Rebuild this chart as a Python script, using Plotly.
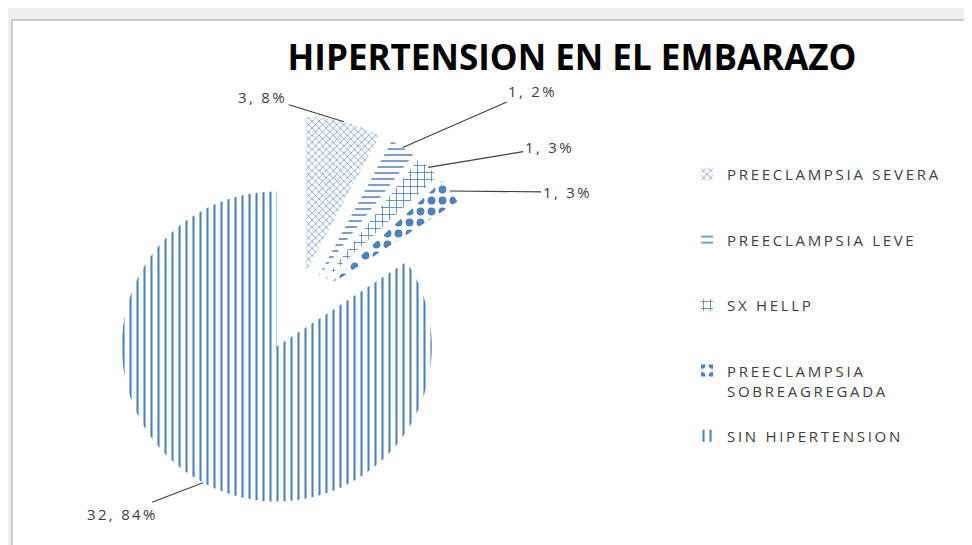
import math
import plotly.graph_objects as go

# ---------------- data ----------------
categories = ["PREECLAMPSIA SEVERA", "PREECLAMPSIA LEVE", "SX HELLP",
              "PREECLAMPSIA SOBREAGREGADA", "SIN HIPERTENSION"]
values = [3, 1, 1, 1, 32]
percent_labels = [8, 2, 3, 3, 84]          # percentages as printed on the chart
title_text = "HIPERTENSION EN EL EMBARAZO"

# ---------------- style ----------------
W, H = 972, 545
BLUE = "#4F81BD"
TXT = "#404040"
FONT = "Open Sans"
pull = 0.26
dom_x = [0.1036 - 8 / W, 0.5054 - 8 / W]
dom_y = [0.0692 + 9 / H, 0.7859 + 9 / H]
shapes_pat = ["x", "-", "+", ".", "|"]
sizes_pat = [5, 6, 7, 11, 7]
solid_pat = [0.22, 0.25, 0.22, 0.4, 0.3]
# label text offsets (px) from the leader-line tip
label_offsets = [(-81, -25), (130, -57), (121, -20), (117, 1), (-81, 31)]


def spaced(s, size=15, ls=2.5):
    return f'<span style="font-size:{size}px;letter-spacing:{ls}px">{s}</span>'


def legend_label(name, total_lines=3):
    parts = [name]
    if len(name) > 20:
        i = name.rfind(" ")
        parts = [name[:i], name[i + 1:]]
    lines = [spaced(p, 15, 2.7) for p in parts]
    while len(lines) < total_lines:
        lines.append("\u00a0")
    return "<br>".join(lines)


leg_labels = [legend_label(c, 3 if k < len(categories) - 1 else 1)
              for k, c in enumerate(categories)]

fig = go.Figure()
fig.add_trace(go.Pie(
    labels=leg_labels,
    values=values,
    sort=False,
    direction="clockwise",
    rotation=0,
    pull=[pull] * len(values),
    textinfo="none",
    hoverinfo="skip",
    domain=dict(x=dom_x, y=dom_y),
    marker=dict(
        colors=["white"] * len(values),
        line=dict(width=0),
        pattern=dict(shape=shapes_pat, size=sizes_pat, solidity=solid_pat,
                     fgcolor=BLUE, bgcolor="white", fillmode="replace"),
    ),
))

# ---- data labels with leader lines, positioned from the pie geometry ----
box = min((dom_x[1] - dom_x[0]) * W, (dom_y[1] - dom_y[0]) * H)
r = box / (2 + 2 * pull)
cx = W * (dom_x[0] + dom_x[1]) / 2
cy = H * (1 - dom_y[0]) - box / 2
total = sum(values)
start = 0.0
annotations = []
for v, p, (ox, oy) in zip(values, percent_labels, label_offsets):
    frac = v / total
    mid = (start + frac / 2) * 2 * math.pi
    start += frac
    dist = r * (1 + pull)
    px = cx + dist * math.sin(mid)
    py = cy - dist * math.cos(mid)
    annotations.append(dict(
        x=px / W, y=1 - py / H, xref="paper", yref="paper",
        text=spaced(f"{v}, {p}%", 15, 2.3),
        showarrow=True, arrowhead=0, arrowwidth=1.1, arrowcolor="#404040",
        ax=ox, ay=oy, standoff=0, startstandoff=0,
        font=dict(family=FONT, size=15, color=TXT),
    ))

fig.update_layout(
    width=W, height=H,
    margin=dict(l=0, r=0, t=0, b=0),
    paper_bgcolor="#EEEEEE",
    plot_bgcolor="white",
    title=dict(text=title_text, x=564 / W, xanchor="center",
               y=1 - 50 / H, yanchor="middle", yref="container",
               font=dict(family=FONT, size=35, color="#000000", weight="bold")),
    showlegend=True,
    legend=dict(x=0.6986, xanchor="left", y=0.726, yanchor="top",
                valign="top", font=dict(family=FONT, size=16, color=TXT),
                bgcolor="rgba(0,0,0,0)", traceorder="normal"),
    shapes=[dict(type="rect", xref="paper", yref="paper",
                 x0=4 / W, x1=1.02, y0=-0.02, y1=1 - 12 / H,
                 fillcolor="white", line=dict(color="#9E9E9E", width=1),
                 layer="below")],
    annotations=annotations,
)

fig.write_html("out.html")
